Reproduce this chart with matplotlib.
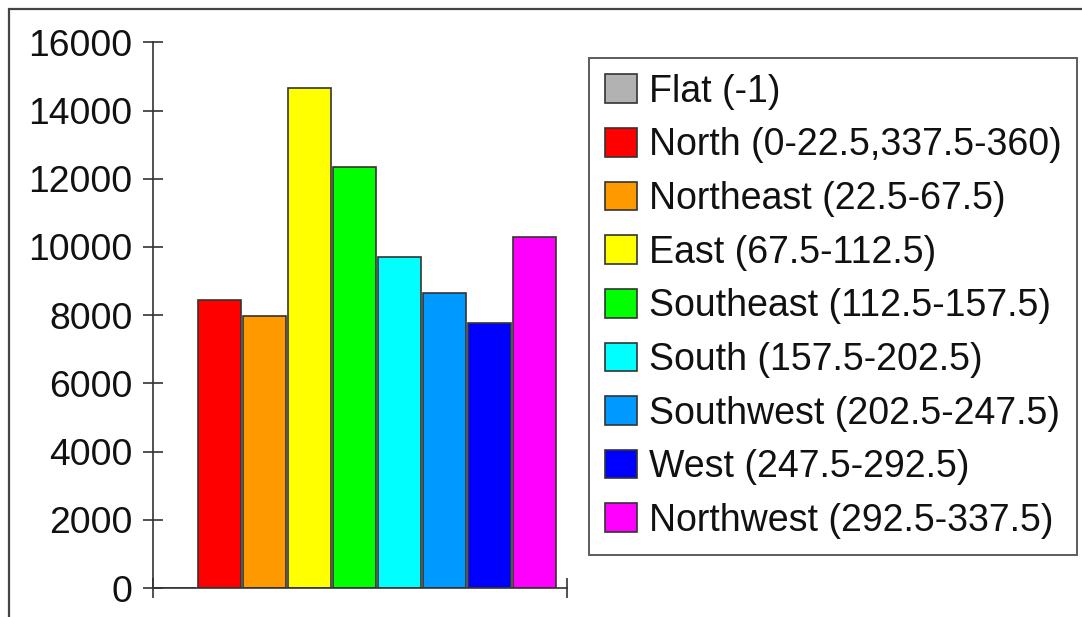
import matplotlib
matplotlib.use("Agg")
import matplotlib.pyplot as plt
from matplotlib.patches import Rectangle, Patch

categories = ["Flat (-1)", "North (0-22.5,337.5-360)", "Northeast (22.5-67.5)",
              "East (67.5-112.5)", "Southeast (112.5-157.5)", "South (157.5-202.5)",
              "Southwest (202.5-247.5)", "West (247.5-292.5)", "Northwest (292.5-337.5)"]
values = [0, 8445, 7975, 14670, 12353, 9714, 8659, 7761, 10300]
colors = ["#B2B2B2", "#FF0000", "#FF9900", "#FFFF00", "#00FF00", "#00FFFF",
          "#0099FF", "#0000FF", "#FF00FF"]
yticks = [0, 2000, 4000, 6000, 8000, 10000, 12000, 14000, 16000]

plt.rcParams['font.family'] = ['Liberation Sans', 'DejaVu Sans']

W, H = 1082, 617
fig = plt.figure(figsize=(W / 100, H / 100), dpi=100)
fig.patch.set_facecolor("white")

# outer frame
fig.add_artist(Rectangle((9 / W, -0.1), 1.2, 1 - 9 / H + 0.1, transform=fig.transFigure,
                         fill=False, edgecolor="#444444", linewidth=1.6))

ax = fig.add_axes([153 / W, (H - 588) / H, (567 - 153) / W, (588 - 42.3) / H])
x = list(range(len(categories)))
bars = ax.bar(x, values, width=0.96, color=colors, edgecolor="#333333", linewidth=1.2)

ax.set_ylim(0, 16000)
ax.set_xlim(-0.48, 8.73)
ax.set_yticks(yticks)
ax.set_yticklabels([str(v) for v in yticks])
ax.set_xticks([-0.48, 8.73])
ax.set_xticklabels(["", ""])
ax.tick_params(axis="y", direction="inout", length=13.7, width=1.2, color="#333333",
               labelsize=26.8, pad=8, labelcolor="#111111")
ax.tick_params(axis="x", direction="inout", length=13.7, width=1.2, color="#333333")
for s in ["top", "right"]:
    ax.spines[s].set_visible(False)
for s in ["left", "bottom"]:
    ax.spines[s].set_color("#333333")
    ax.spines[s].set_linewidth(1.2)
ax.set_facecolor("white")

handles = [Patch(facecolor=c, edgecolor="#333333", linewidth=1.2) for c in colors]
leg = fig.legend(handles, categories, loc="upper left",
                 bbox_to_anchor=(589 / W, 1 - 58 / H), fontsize=27,
                 frameon=True, fancybox=False, edgecolor="#333333",
                 handlelength=0.85, handleheight=0.8, handletextpad=0.32,
                 borderpad=0.42, labelspacing=0.47, borderaxespad=0)
for t in leg.get_texts():
    t.set_color("#111111")
leg.get_frame().set_linewidth(1.4)

fig.savefig("out.png", dpi=100, facecolor="white")
